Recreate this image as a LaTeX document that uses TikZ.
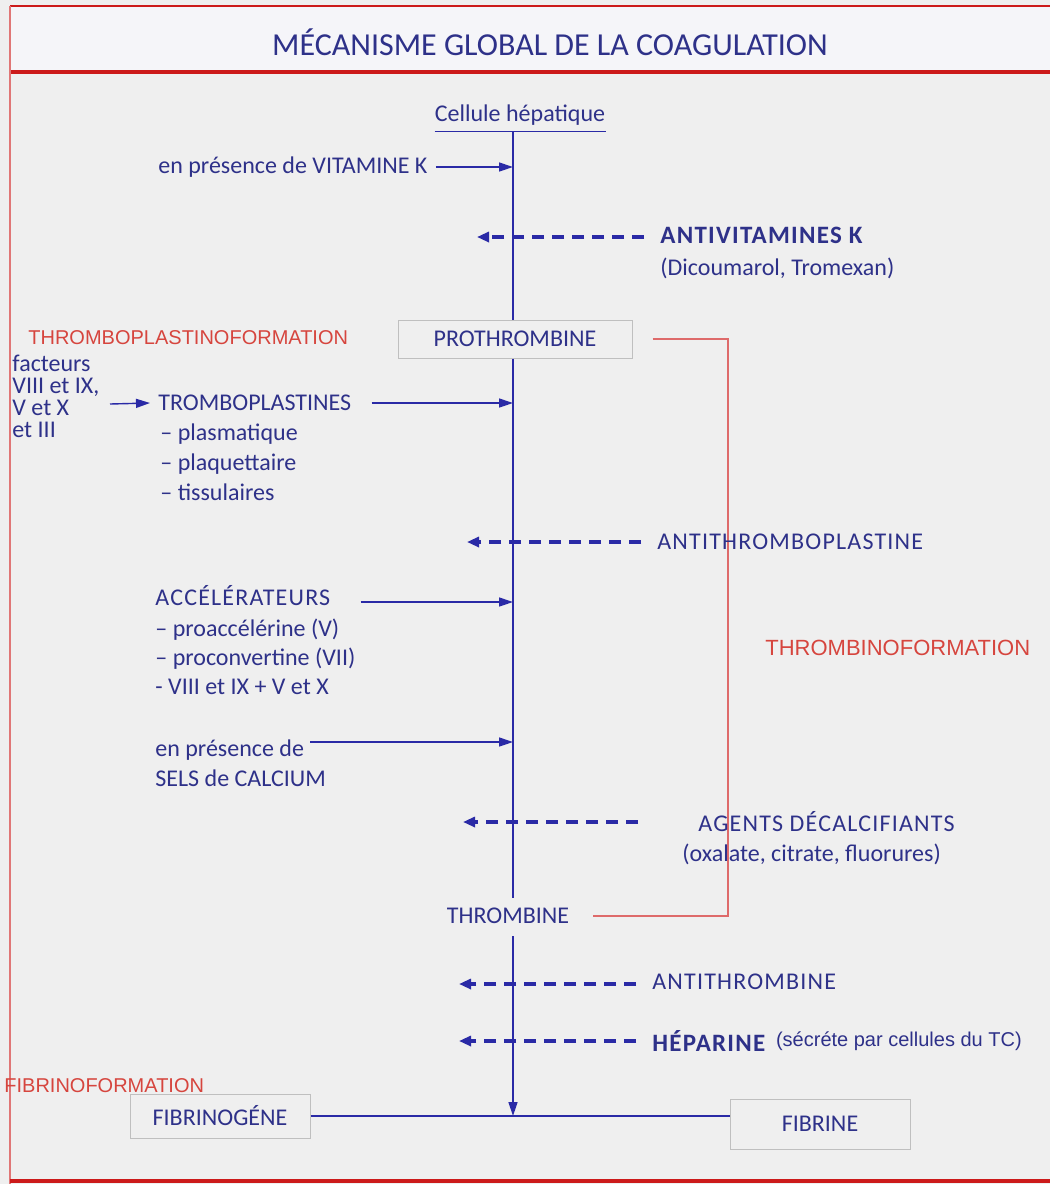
\documentclass[tikz,border=0pt]{standalone}
\usepackage{fontspec}
\setmainfont{Carlito}
\newfontfamily\capsfont[LetterSpace=5]{Carlito}
\newfontfamily\labelfont{Liberation Sans}
\usetikzlibrary{arrows.meta, positioning}
\definecolor{txtblue}{HTML}{2E3189}
\definecolor{arrblue}{HTML}{2A2AA6}
\definecolor{lblred}{HTML}{D6453E}
\definecolor{linered}{HTML}{CC1A1A}
\definecolor{paper}{HTML}{EFEFEF}
\definecolor{band}{HTML}{F5F5F9}
\newcommand{\bodyfont}{\fontsize{12}{14}\selectfont}
\tikzset{%
	lbl/.style={
		anchor=west,
		inner sep=0pt,
		text=txtblue,
		font=\bodyfont
	},
	capslbl/.style={
		lbl,
		font=\capsfont\bodyfont
	},
	redlbl/.style={
		lbl,
		text=lblred,
		font=\labelfont\fontsize{10}{12}\selectfont
	},
	stagebox/.style={
		draw=gray!50,
		line width=0.5pt,
		inner sep=0pt,
		text=txtblue,
		font=\bodyfont
	},
	spine/.style={draw=arrblue, line width=0.7pt},
	feed/.style={spine, -{Triangle[length=7pt, width=4.5pt]}},
	inhib/.style={
		draw=arrblue,
		line width=1.7pt,
		dash pattern=on 6pt off 4pt,
		-{Triangle[length=6pt, width=5pt]}
	},
	bracket/.style={draw=linered!65, line width=0.6pt},
}
\begin{document}
\begin{tikzpicture}[x=0.5pt, y=-0.5pt]
			% Paper and frame
			\fill[paper] (0,0) rectangle (1050,1184);
			\fill[band] (10,6) rectangle (1050,72);
			\useasboundingbox (0,0) rectangle (1050,1184);
			\draw[linered, line width=0.7pt] (10,6) -- (1050,6);
			\draw[linered, line width=2.2pt] (10,72) -- (1050,72);
			\draw[linered!60, line width=0.6pt] (10,6) -- (10,1184);
			\draw[linered, line width=1.6pt] (10,1181) -- (1050,1181);
			\node[lbl, anchor=center, font=\fontsize{16}{18}\selectfont] (title) at (550,42) {MÉCANISME GLOBAL DE LA COAGULATION};
			
			% Draw the main chain
			\coordinate (spine) at (513,0);
			\node[lbl, anchor=center] (cell) at (520,115) {Cellule hépatique};
			\draw[spine] ([yshift=-3pt]cell.south west) -- ([yshift=-3pt]cell.south east);
			\node[stagebox, minimum width=117pt, minimum height=19pt] (proth) at (515,339) {PROTHROMBINE};
			\node[lbl, anchor=center] (thromb) at (508,916) {THROMBINE};
			\node[stagebox, minimum width=90pt, minimum height=22pt] (fibgen) at (220,1116) {FIBRINOGÉNE};
			\node[stagebox, minimum width=90pt, minimum height=25pt] (fibrin) at (820,1124) {FIBRINE};
			\draw[spine] ([yshift=-3pt]cell.south -| spine) -- (proth.north -| spine);
			\draw[spine] (proth.south -| spine) -- ([yshift=5pt]thromb.north -| spine);
			\draw[feed] ([yshift=-6pt]thromb.south -| spine) -- (fibgen.east -| spine);
			\draw[spine] (fibgen.east) -- (fibgen.east -| fibrin.west);
			
			% Red stage labels and bracket
			\node[redlbl] (tpf) at (28,338) {THROMBOPLASTINOFORMATION};
			\node[redlbl, font=\labelfont\fontsize{11}{12}\selectfont] (tbf) at (765,648) {THROMBINOFORMATION};
			\node[redlbl] (fbf) at (4,1086) {FIBRINOFORMATION};
			\draw[bracket] ([xshift=10pt]proth.east) -| (728,916) -- ([xshift=12pt]thromb.east);
			
			% Factors feeding the chain
			\node[lbl] (vitk) at (158,167) {en présence de VITAMINE K};
			\draw[feed] ([xshift=4pt]vitk.east) -- (vitk.east -| spine);
			
			\node[lbl, align=left, anchor=north west, font=\fontsize{12}{11}\selectfont] (fact) at (12,355) {facteurs\\VIII et IX,\\V et X\\et III};
			\node[lbl] (tpl) at (158,403) {TROMBOPLASTINES};
			\draw[feed] (110,404) -- ([xshift=-4pt]tpl.west);
			\draw[feed] ([xshift=10pt]tpl.east) -- (tpl.east -| spine);
			\node[lbl, align=left, anchor=north west, font=\fontsize{12}{15}\selectfont] (tplsub) at (160,423) {-- plasmatique\\-- plaquettaire\\-- tissulaires};
			
			\node[capslbl] (acc) at (155,596) {ACCÉLÉRATEURS};
			\draw[feed] ([xshift=15pt, yshift=-3pt]acc.east) -- ([yshift=-3pt]acc.east -| spine);
			\node[lbl, align=left, anchor=north west, font=\fontsize{12}{14.5}\selectfont] (accsub) at (155,619) {-- proaccélérine (V)\\-- proconvertine (VII)\\- VIII et IX + V et X};
			
			\node[lbl, align=left, anchor=north west, font=\fontsize{12}{15}\selectfont] (calc) at (155,739) {en présence de\\SELS de CALCIUM};
			\coordinate (calcfrom) at (310,742);
			\draw[feed] (calcfrom) -- (calcfrom -| spine);
			
			% Inhibitors
			\node[capslbl, font=\capsfont\fontsize{12.5}{14}\selectfont\bfseries] (avk) at (660,235) {ANTIVITAMINES K};
			\node[lbl] (avksub) at (660,268) {(Dicoumarol, Tromexan)};
			\draw[inhib] ([xshift=-8pt, yshift=-1pt]avk.west) -- ([xshift=-18pt, yshift=-1pt]avk.west -| spine);
			
			\node[capslbl] (atp) at (657,542) {ANTITHROMBOPLASTINE};
			\draw[inhib] ([xshift=-8pt]atp.west) -- ([xshift=-23pt]atp.west -| spine);
			
			\node[capslbl] (dec) at (698,822) {AGENTS DÉCALCIFIANTS};
			\node[lbl] (decsub) at (682,854) {(oxalate, citrate, fluorures)};
			\draw[inhib] ([xshift=-30pt]dec.west) -- ([xshift=-25pt]dec.west -| spine);
			
			\node[capslbl] (atb) at (652,982) {ANTITHROMBINE};
			\draw[inhib, line width=2.4pt] ([xshift=-8pt, yshift=-1pt]atb.west) -- ([xshift=-27pt, yshift=-1pt]atb.west -| spine);
			
			\node[capslbl, font=\capsfont\fontsize{12.5}{14}\selectfont\bfseries] (hep) at (652,1041) {HÉPARINE};
			\node[lbl, font=\labelfont\fontsize{10}{12}\selectfont, right=5pt of hep] (hepsub) {(sécréte par cellules du TC)};
			\draw[inhib] ([xshift=-8pt]hep.west) -- ([xshift=-27pt]hep.west -| spine);
			
		\end{tikzpicture}
\end{document}
